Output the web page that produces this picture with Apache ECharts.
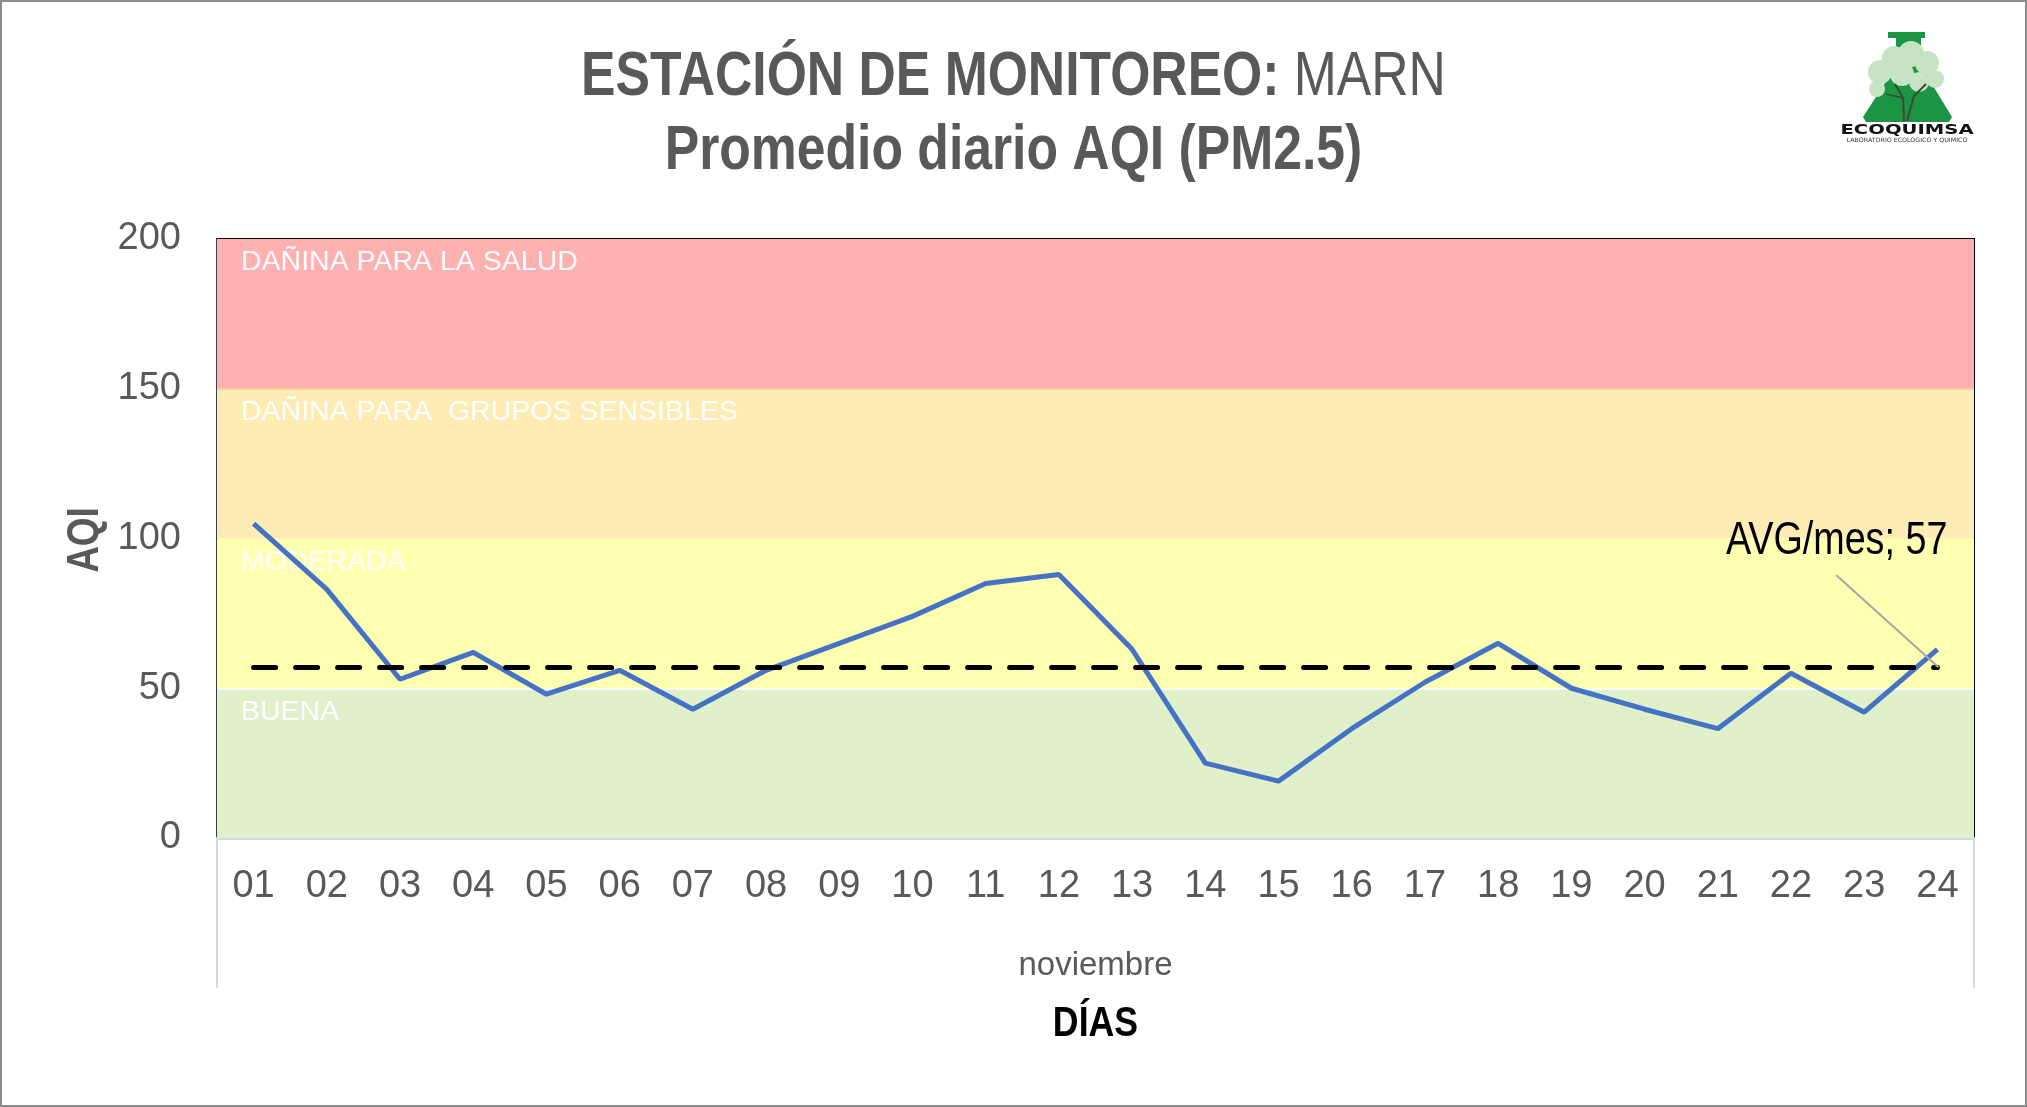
<!DOCTYPE html>
<html>
<head>
<meta charset="utf-8">
<title>Estación de monitoreo MARN - AQI PM2.5</title>
<script src="https://cdn.jsdelivr.net/npm/echarts@6.0.0/dist/echarts.min.js"></script>
<style>
  html, body { margin: 0; padding: 0; background: #fff; }
  #chart { width: 2027px; height: 1107px; }
</style>
</head>
<body>
<div id="chart"></div>
<script>
// datos
var dias = ['01', '02', '03', '04', '05', '06', '07', '08', '09', '10', '11', '12',
            '13', '14', '15', '16', '17', '18', '19', '20', '21', '22', '23', '24'];
var aqi = [105, 83, 53, 62, 48, 56, 43, 56, 65, 74, 85, 88,
           63, 25, 19, 36.5, 52, 65, 50, 43, 36.5, 55, 42, 63];
var promedioMes = 57;
var limitesBandas = [0, 50, 100, 150, 200];
var nombresBandas = ['BUENA', 'MODERADA', 'DAÑINA PARA  GRUPOS SENSIBLES', 'DAÑINA PARA LA SALUD'];
var bordesBandas = [150, 50];
var mes = 'noviembre';

// no hay Arial Narrow: Liberation Sans comprimida con scaleX donde se puede
var SANS = '"Liberation Sans", Arial, sans-serif';
var NARROW_X = 0.82;
var GRIS = '#595959';
var coloresBandas = ['#DFF0CA', '#FFFFB2', '#FFEBB4', '#FFB1B1'];
var coloresBordes = ['#FFC896', '#FFFFFF'];

var G = { left: 217, top: 239, right: 53, bottom: 269 };
var W = 2027, H = 1107;

var chart = echarts.init(document.getElementById('chart'));

var bandas = nombresBandas.map(function (n, i) {
  return [
    { name: n, yAxis: limitesBandas[i], itemStyle: { color: coloresBandas[i] } },
    { yAxis: limitesBandas[i + 1] }
  ];
});

var option = {
  animation: false,
  backgroundColor: '#fff',
  grid: {
    left: G.left, top: G.top, right: G.right, bottom: G.bottom,
    show: true, borderColor: '#000', borderWidth: 2, backgroundColor: 'transparent'
  },
  xAxis: {
    type: 'category',
    data: dias,
    boundaryGap: true,
    axisLine: { lineStyle: { color: '#D9D9D9', width: 3 } },
    axisTick: { show: false },
    axisLabel: { fontFamily: SANS, fontSize: 38, color: GRIS, margin: 30 },
    splitLine: { show: false }
  },
  yAxis: {
    type: 'value',
    min: 0, max: 200, interval: 50,
    axisLine: { show: true, lineStyle: { color: '#404040', width: 2 } },
    axisTick: { show: false },
    axisLabel: { fontFamily: SANS, fontSize: 38, color: GRIS, margin: 36 },
    splitLine: { show: false }
  },
  series: [
    {
      name: 'bandas',
      type: 'line',
      data: [],
      silent: true,
      markArea: {
        silent: true,
        label: {
          show: true, position: 'insideTopLeft', distance: 0, offset: [24, 9],
          color: '#fff', fontFamily: SANS, fontSize: 28.5
        },
        data: bandas
      },
      markLine: {
        silent: true, z: 1.5, symbol: 'none',
        label: { show: false },
        data: bordesBandas.map(function (v, i) {
          return { yAxis: v, lineStyle: { color: coloresBordes[i], width: 1.5, type: 'solid' } };
        })
      }
    },
    {
      name: 'AQI',
      type: 'line',
      data: aqi,
      symbol: 'none',
      z: 3,
      lineStyle: { color: '#4472C4', width: 5 },
      markLine: {
        silent: true, symbol: 'none',
        label: { show: false },
        lineStyle: { color: '#000', width: 5, type: [22, 20], cap: 'round' },
        data: [[{ coord: [dias[0], promedioMes] }, { coord: [dias[dias.length - 1], promedioMes] }]]
      }
    }
  ]
};

chart.setOption(option);

// punto del promedio en el último día, para la etiqueta con línea guía
var p = chart.convertToPixel({ xAxisIndex: 0, yAxisIndex: 0 }, [dias[dias.length - 1], promedioMes]);
var plotR = W - G.right, plotB = H - G.bottom;

var graficos = [
  // marco exterior
  { type: 'rect', z: 10, shape: { x: 1, y: 1, width: W - 2, height: H - 2 },
    style: { fill: 'none', stroke: '#8C8C8C', lineWidth: 2 }, silent: true },
  // titulo
  { type: 'text', z: 10, x: W / 2, y: 78, scaleX: NARROW_X, silent: true,
    style: {
      text: '{b|ESTACIÓN DE MONITOREO:} {r|MARN}',
      align: 'center', verticalAlign: 'middle',
      fontFamily: SANS, fontSize: 63, fill: GRIS,
      rich: {
        b: { fontFamily: SANS, fontSize: 63, fontWeight: 'bold', fill: GRIS },
        r: { fontFamily: SANS, fontSize: 63, fontWeight: 'normal', fill: GRIS }
      }
    } },
  { type: 'text', z: 10, x: W / 2, y: 152, scaleX: NARROW_X, silent: true,
    style: { text: 'Promedio diario AQI (PM2.5)', align: 'center', verticalAlign: 'middle',
      fontFamily: SANS, fontSize: 63, fontWeight: 'bold', fill: GRIS } },
  // nombre eje Y
  { type: 'text', z: 10, x: 86, y: 540, rotation: Math.PI / 2, scaleX: NARROW_X, silent: true,
    style: { text: 'AQI', align: 'center', verticalAlign: 'middle',
      fontFamily: SANS, fontSize: 45, fontWeight: 'bold', fill: GRIS } },
  // separadores bajo el eje de categorias
  { type: 'line', z: 10, shape: { x1: G.left, y1: plotB + 2, x2: G.left, y2: plotB + 150 },
    style: { stroke: '#D9D9D9', lineWidth: 2 }, silent: true },
  { type: 'line', z: 10, shape: { x1: plotR, y1: plotB + 2, x2: plotR, y2: plotB + 150 },
    style: { stroke: '#D9D9D9', lineWidth: 2 }, silent: true },
  { type: 'text', z: 10, x: (G.left + plotR) / 2, y: 966, silent: true,
    style: { text: mes, align: 'center', verticalAlign: 'middle',
      fontFamily: SANS, fontSize: 33, fill: GRIS } },
  { type: 'text', z: 10, x: (G.left + plotR) / 2, y: 1024, scaleX: 0.85, silent: true,
    style: { text: 'DÍAS', align: 'center', verticalAlign: 'middle',
      fontFamily: SANS, fontSize: 42, fontWeight: 'bold', fill: '#000' } },
  // etiqueta del promedio
  { type: 'line', z: 10, shape: { x1: p[0] - 101, y1: p[1] - 92, x2: p[0] + 1, y2: p[1] },
    style: { stroke: '#A6A6A6', lineWidth: 2 }, silent: true },
  { type: 'text', z: 10, x: p[0] + 10, y: p[1] - 126, scaleX: NARROW_X, silent: true,
    style: { text: 'AVG/mes; ' + promedioMes, align: 'right', verticalAlign: 'middle',
      fontFamily: SANS, fontSize: 46, fill: '#000' } },
  // logo ECOQUIMSA
  { type: 'group', z: 10, silent: true, children: [
    { type: 'rect', z: 10, shape: { x: 1888, y: 32, width: 37, height: 6 }, style: { fill: '#1B9444' } },
    { type: 'polygon', z: 10, shape: { points: [[1896, 38], [1921, 38], [1921, 66], [1952, 117], [1949, 122],
        [1866, 122], [1863, 117], [1896, 66]] }, style: { fill: '#1B9444' } },
    { type: 'circle', z: 10, shape: { cx: 1880, cy: 72, r: 12 }, style: { fill: '#C6E3C4' } },
    { type: 'circle', z: 10, shape: { cx: 1894, cy: 58, r: 12 }, style: { fill: '#C6E3C4' } },
    { type: 'circle', z: 10, shape: { cx: 1911, cy: 54, r: 13 }, style: { fill: '#C6E3C4' } },
    { type: 'circle', z: 10, shape: { cx: 1927, cy: 63, r: 12 }, style: { fill: '#C6E3C4' } },
    { type: 'circle', z: 10, shape: { cx: 1935, cy: 79, r: 9 }, style: { fill: '#C6E3C4' } },
    { type: 'circle', z: 10, shape: { cx: 1902, cy: 74, r: 12 }, style: { fill: '#C6E3C4' } },
    { type: 'circle', z: 10, shape: { cx: 1919, cy: 82, r: 10 }, style: { fill: '#C6E3C4' } },
    { type: 'circle', z: 10, shape: { cx: 1877, cy: 89, r: 8 }, style: { fill: '#C6E3C4' } },
    { type: 'polyline', z: 10, shape: { points: [[1904, 121], [1903, 98], [1895, 84]] },
      style: { stroke: '#3B4A35', lineWidth: 2, fill: 'none' } },
    { type: 'polyline', z: 10, shape: { points: [[1907, 121], [1914, 96], [1926, 84]] },
      style: { stroke: '#3B4A35', lineWidth: 2, fill: 'none' } },
    { type: 'polyline', z: 10, shape: { points: [[1903, 98], [1886, 94]] },
      style: { stroke: '#3B4A35', lineWidth: 1.5, fill: 'none' } },
    { type: 'text', z: 10, x: 1907, y: 130, scaleX: 1.4,
      style: { text: 'ECOQUIMSA', align: 'center', verticalAlign: 'middle',
        fontFamily: '"DejaVu Sans", sans-serif', fontSize: 14, fontWeight: 'bold', fill: '#111' } },
    { type: 'text', z: 10, x: 1907, y: 140, scaleX: 1.05,
      style: { text: 'LABORATORIO ECOLOGICO Y QUIMICO', align: 'center', verticalAlign: 'middle',
        fontFamily: '"DejaVu Sans", sans-serif', fontSize: 6, fill: '#333' } }
  ] }
];

chart.setOption({ graphic: graficos });
</script>
</body>
</html>
